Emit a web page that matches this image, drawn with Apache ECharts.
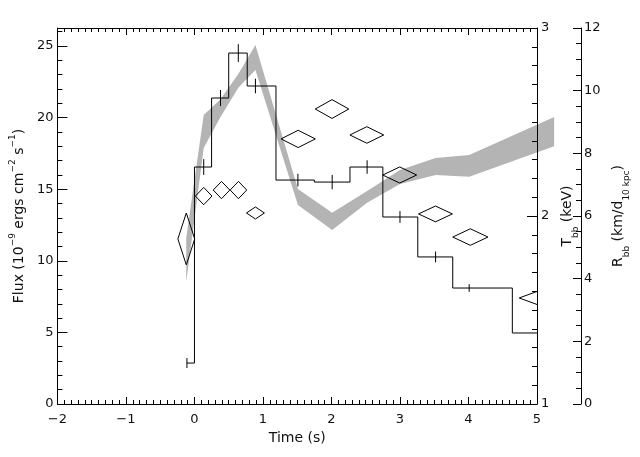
<!DOCTYPE html>
<html>
<head>
<meta charset="utf-8">
<script src="https://cdn.jsdelivr.net/npm/echarts@6/dist/echarts.min.js"></script>
<style>
html,body{margin:0;padding:0;background:#fff;}
#chart{width:640px;height:457px;}
</style>
</head>
<body>
<div id="chart"></div>
<script>
// Flux histogram (step) : bin edges (s) and flux (1e-9 erg/cm2/s)
const binEdges = [-0.11, 0.0, 0.25, 0.5, 0.77, 1.19, 1.75, 2.27, 2.75, 3.26, 3.77, 4.64, 5.0];
const flux     = [2.86, 16.55, 21.37, 24.51, 22.21, 15.64, 15.50, 16.55, 13.06, 10.27, 8.10, 4.96];
// Flux error bars
const errTime  = [-0.11, 0.135, 0.38, 0.64, 0.89, 1.51, 2.01, 2.52, 3.0, 3.52, 4.01];
const fluxErr  = [0.35, 0.55, 0.56, 0.62, 0.51, 0.44, 0.5, 0.47, 0.41, 0.38, 0.27];
// Blackbody temperature (diamonds): time, kT, half-width (s), half-height (keV)
const tbbTime  = [-0.119, 0.135, 0.395, 0.642, 0.890, 1.514, 2.008, 2.516, 2.996, 3.518, 4.027, 5.10];
const tbbVal   = [1.878, 2.106, 2.138, 2.138, 2.016, 2.410, 2.569, 2.431, 2.218, 2.011, 1.888, 1.564];
const tbbDt    = [0.123, 0.121, 0.121, 0.121, 0.131, 0.250, 0.245, 0.247, 0.247, 0.247, 0.257, 0.36];
const tbbErr   = [0.138, 0.046, 0.046, 0.046, 0.032, 0.046, 0.050, 0.044, 0.043, 0.042, 0.044, 0.048];
// Blackbody radius band (grey): time, lower, upper (km / d10kpc)
const bandTime = [-0.12, 0.135, 0.38, 0.64, 0.89, 1.51, 2.01, 2.52, 3.0, 3.52, 4.01, 5.25];
const bandLo   = [3.89, 8.17, 9.16, 10.09, 10.66, 6.35, 5.55, 6.42, 7.02, 7.31, 7.25, 8.23];
const bandHi   = [5.30, 9.22, 9.73, 10.53, 11.46, 6.86, 6.10, 6.80, 7.47, 7.85, 7.95, 9.16];

const FONT = 'DejaVu Sans';
const TXT = '#111';

const stepData = [];
for (let i = 0; i < flux.length; i++) {
  stepData.push([binEdges[i], flux[i]]);
  stepData.push([binEdges[i + 1], flux[i]]);
}
const errData = errTime.map((t, i) => [t, flux[i], fluxErr[i]]);
const tbbData = tbbTime.map((t, i) => [t, tbbVal[i], tbbDt[i], tbbErr[i]]);
const bandData = bandTime.map((t, i) => [t, bandLo[i], bandHi[i]]);

const minusFmt = v => String(v).replace('-', '\u2212');
const lineBlack = { lineStyle: { color: '#000', width: 1 } };

const chart = echarts.init(document.getElementById('chart'), null, { renderer: 'canvas' });
chart.setOption({
  animation: false,
  backgroundColor: '#fff',
  grid: { left: 55, right: 103, top: 28, bottom: 53, containLabel: false },
  xAxis: [
    {
      type: 'value', position: 'bottom', min: -2, max: 5, interval: 1, z: 5,
      axisLine: { show: true, onZero: false, ...lineBlack },
      axisTick: { show: true, inside: true, length: 7, ...lineBlack },
      minorTick: { show: true, splitNumber: 10, length: 4, ...lineBlack },
      splitLine: { show: false },
      axisLabel: { color: TXT, fontFamily: FONT, fontSize: 13, margin: 9, formatter: minusFmt },
      name: 'Time (s)', nameLocation: 'middle', nameGap: 27,
      nameTextStyle: { color: TXT, fontFamily: FONT, fontSize: 14 }
    },
    {
      type: 'value', position: 'top', min: -2, max: 5, interval: 1, z: 5,
      axisLine: { show: true, onZero: false, ...lineBlack },
      axisTick: { show: true, inside: true, length: 7, ...lineBlack },
      minorTick: { show: true, splitNumber: 10, length: 4, ...lineBlack },
      splitLine: { show: false },
      axisLabel: { show: false }
    }
  ],
  yAxis: [
    {
      type: 'value', position: 'left', min: 0, max: 26.26, interval: 5, z: 5,
      axisLine: { show: true, onZero: false, ...lineBlack },
      axisTick: { show: true, inside: true, length: 10, ...lineBlack },
      minorTick: { show: true, splitNumber: 5, length: 5, ...lineBlack },
      splitLine: { show: false },
      axisLabel: { color: TXT, fontFamily: FONT, fontSize: 13, margin: 4, showMaxLabel: false },
      name: '{b|Flux (10}{s|\u22129}{b| ergs cm}{s|\u22122}{b| s}{s|\u22121}{b|)}',
      nameLocation: 'middle', nameGap: 26, nameRotate: 90,
      nameTextStyle: {
        rich: {
          b: { color: TXT, fontFamily: FONT, fontSize: 14, lineHeight: 18, verticalAlign: 'bottom' },
          s: { color: TXT, fontFamily: FONT, fontSize: 9, lineHeight: 18, verticalAlign: 'top' }
        }
      }
    },
    {
      type: 'value', position: 'right', offset: 0, min: 1, max: 3, interval: 1, z: 5,
      axisLine: { show: true, onZero: false, ...lineBlack },
      axisTick: { show: true, inside: true, length: 10, ...lineBlack },
      minorTick: { show: true, splitNumber: 10, length: 5, ...lineBlack },
      splitLine: { show: false },
      axisLabel: { color: TXT, fontFamily: FONT, fontSize: 13, margin: 4 },
      name: '{b|T}{u|bb}{b| (keV)}',
      nameLocation: 'middle', nameGap: 12, nameRotate: 90,
      nameTextStyle: {
        rich: {
          b: { color: TXT, fontFamily: FONT, fontSize: 14, lineHeight: 20, verticalAlign: 'top' },
          u: { color: TXT, fontFamily: FONT, fontSize: 9, lineHeight: 20, verticalAlign: 'bottom' }
        }
      }
    },
    {
      type: 'value', position: 'right', offset: 44, min: 0, max: 12, interval: 2, z: 5,
      axisLine: { show: true, onZero: false, ...lineBlack },
      axisTick: { show: true, inside: true, length: 8, ...lineBlack },
      minorTick: { show: true, splitNumber: 4, length: 5, ...lineBlack },
      splitLine: { show: false },
      axisLabel: { color: TXT, fontFamily: FONT, fontSize: 13, margin: 3 },
      name: '{b|R}{u|bb}{b| (km/d}{u|10 kpc}{b|)}',
      nameLocation: 'middle', nameGap: 19, nameRotate: 90,
      nameTextStyle: {
        rich: {
          b: { color: TXT, fontFamily: FONT, fontSize: 14, lineHeight: 20, verticalAlign: 'top' },
          u: { color: TXT, fontFamily: FONT, fontSize: 9, lineHeight: 20, verticalAlign: 'bottom' }
        }
      }
    }
  ],
  series: [
    {
      type: 'custom', name: 'Rbb', xAxisIndex: 0, yAxisIndex: 2, z: 1, silent: true,
      clip: false,
      data: bandData,
      encode: { x: 0, y: [1, 2] },
      renderItem: function (params, api) {
        if (params.dataIndex !== 0) return null;
        const pts = [];
        for (let i = 0; i < bandData.length; i++) pts.push(api.coord([bandData[i][0], bandData[i][2]]));
        for (let i = bandData.length - 1; i >= 0; i--) pts.push(api.coord([bandData[i][0], bandData[i][1]]));
        return { type: 'polygon', shape: { points: pts }, style: { fill: '#b4b4b4', stroke: null } };
      }
    },
    {
      type: 'line', name: 'Flux', xAxisIndex: 0, yAxisIndex: 0, z: 3, silent: true,
      data: stepData, symbol: 'none', showSymbol: false,
      lineStyle: { color: '#000', width: 1 }
    },
    {
      type: 'custom', name: 'FluxErr', xAxisIndex: 0, yAxisIndex: 0, z: 3, silent: true,
      clip: true,
      data: errData,
      encode: { x: 0, y: 1 },
      renderItem: function (params, api) {
        const t = api.value(0), f = api.value(1), e = api.value(2);
        const a = api.coord([t, f - e]), b = api.coord([t, f + e]);
        return { type: 'line', shape: { x1: a[0], y1: a[1], x2: b[0], y2: b[1] },
                 style: { stroke: '#000', lineWidth: 1 } };
      }
    },
    {
      type: 'custom', name: 'Tbb', xAxisIndex: 0, yAxisIndex: 1, z: 4, silent: true,
      clip: true,
      data: tbbData,
      encode: { x: 0, y: 1 },
      renderItem: function (params, api) {
        const t = api.value(0), v = api.value(1), dt = api.value(2), dv = api.value(3);
        const pts = [
          api.coord([t - dt, v]), api.coord([t, v + dv]),
          api.coord([t + dt, v]), api.coord([t, v - dv])
        ];
        return { type: 'polygon', shape: { points: pts },
                 style: { fill: 'none', stroke: '#000', lineWidth: 1 } };
      }
    }
  ]
});
</script>
</body>
</html>
